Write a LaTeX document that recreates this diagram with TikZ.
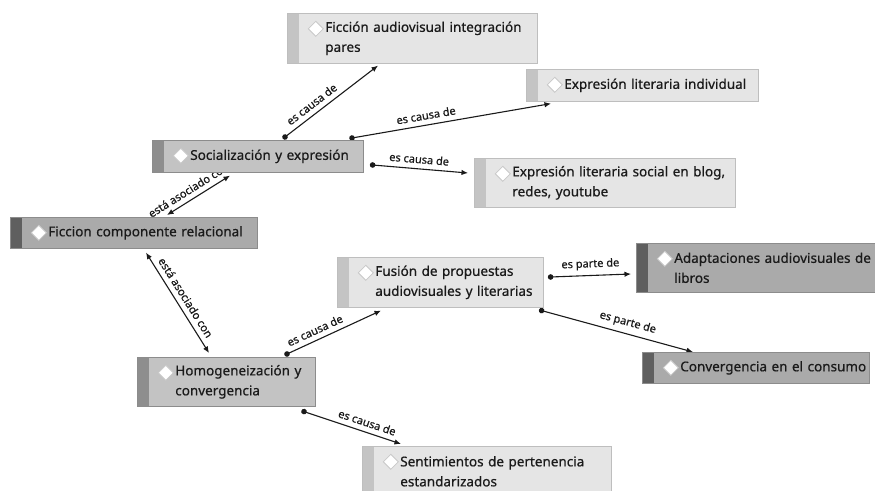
\documentclass[tikz,border=0pt]{standalone}
\usepackage{fontspec}
\setmainfont{Noto Sans}[FakeBold=0.6]
\usetikzlibrary{arrows.meta,backgrounds}
\definecolor{ink}{HTML}{1A1A1A}
\definecolor{lightfill}{HTML}{E5E5E5}
\definecolor{lightstripe}{HTML}{C4C4C4}
\definecolor{lightline}{HTML}{BEBEBE}
\definecolor{midfill}{HTML}{C3C3C3}
\definecolor{midstripe}{HTML}{8E8E8E}
\definecolor{darkfill}{HTML}{AAAAAA}
\definecolor{darkstripe}{HTML}{5F5F5F}
\definecolor{darkline}{HTML}{8C8C8C}
\definecolor{diamondline}{HTML}{C8C8C8}
\tikzset{%
  boxstripe/.style = {fill=lightstripe},%
  concept/.style   = {shape=rectangle, draw=lightline, line width=0.6bp,%
                      anchor=north west, inner xsep=2bp, inner ysep=0pt,%
                      align=left, text=ink,%
                      font=\fontsize{13.5bp}{20bp}\selectfont,%
                      execute at begin node={\leftskip=36bp},%
                      path picture={%
                        \fill[boxstripe] (path picture bounding box.north west)%
                          rectangle ([xshift=12bp]path picture bounding box.south west);%
                        \filldraw[fill=white, draw=diamondline, line width=0.8bp]%
                          ([shift={(21bp,-15.5bp)}]path picture bounding box.north west)%
                          -- ++(7.5bp,7.5bp) -- ++(7.5bp,-7.5bp) -- ++(-7.5bp,-7.5bp) -- cycle;}},%
  light/.style     = {concept, fill=lightfill},%
  medium/.style    = {concept, fill=midfill, draw=darkline,%
                      boxstripe/.style={fill=midstripe}},%
  dark/.style      = {concept, fill=darkfill, draw=darkline,%
                      boxstripe/.style={fill=darkstripe}},%
  link/.style      = {draw=ink, line width=1.1bp},%
  cause/.style     = {link, {Circle[length=5.5bp]}-{Latex[length=6.5bp,width=5.5bp]},%
                      shorten <=-2.75bp},%
  assoc/.style     = {link, {Latex[length=6.5bp,width=5.5bp]}-{Latex[length=6.5bp,width=5.5bp]}},%
  lab/.style       = {font=\fontsize{11bp}{13bp}\selectfont, text=ink,%
                      sloped, above, inner sep=5bp}%
}
\begin{document}
\begin{tikzpicture}[x=1bp,y=1bp]
  \clip (0,0) rectangle (875,-491);
  \node[light, text width=246bp, minimum height=50bp] (fic) at (287,-13)
    {Ficción audiovisual integración\\pares};
  \node[light, text width=228bp, minimum height=32bp] (exind) at (526,-69)
    {Expresión literaria individual};
  \node[medium, text width=207bp, minimum height=32bp] (soc) at (152,-140)
    {Socialización y expresión};
  \node[light, text width=257bp, minimum height=49bp] (exsoc) at (474,-158)
    {Expresión literaria social en blog,\\redes, youtube};
  \node[dark, text width=243bp, minimum height=31bp] (rel) at (10,-217)
    {Ficcion componente relacional};
  \node[light, text width=202bp, minimum height=50bp] (fus) at (337,-257)
    {Fusión de propuestas\\audiovisuales y literarias};
  \node[dark, text width=239bp, minimum height=49bp] (adap) at (636,-243)
    {Adaptaciones audiovisuales de\\libros};
  \node[dark, text width=223bp, minimum height=31bp] (conv) at (642,-352)
    {Convergencia en el consumo};
  \node[medium, text width=174bp, minimum height=49bp] (hom) at (137,-357)
    {Homogeneización y\\convergencia};
  \node[light, text width=245bp, minimum height=50bp] (sent) at (362,-446)
    {Sentimientos de pertenencia\\estandarizados};
  \begin{scope}[on background layer]
    \draw[cause] ([shift={(133,3)}]soc.north west) --
      node[lab, pos=0.35] {es causa de} ([shift={(91,-2)}]fic.south west);
    \draw[cause] ([shift={(200,2)}]soc.north west) --
      node[lab, pos=0.38] {es causa de} ([shift={(25,-2)}]exind.south west);
    \draw[cause] ([shift={(9,-25)}]soc.north east) --
      node[lab, pos=0.48] {es causa de} ([shift={(-6,-15)}]exsoc.north west);
    \draw[assoc] ([shift={(157,2)}]rel.north west) --
      node[lab, pos=0.42] {está asociado con} ([shift={(78,-3)}]soc.south west);
    \draw[assoc] ([shift={(136,-4)}]rel.south west) --
      node[lab, pos=0.5] {está asociado con} ([shift={(72,4)}]hom.north west);
    \draw[cause] ([shift={(150,3)}]hom.north west) --
      node[lab, pos=0.34] {es causa de} ([shift={(44,-3)}]fus.south west);
    \draw[cause] ([shift={(167,-5)}]hom.south west) --
      node[lab, pos=0.62] {es causa de} ([shift={(39,2)}]sent.north west);
    \draw[cause] ([shift={(7,-20)}]fus.north east) --
      node[lab, pos=0.5] {es parte de} ([shift={(-5,-31)}]adap.north west);
    \draw[cause] ([shift={(-2,-3)}]fus.south east) --
      node[lab, pos=0.55] {es parte de} ([shift={(51,0)}]conv.north west);
  \end{scope}
\end{tikzpicture}
\end{document}
